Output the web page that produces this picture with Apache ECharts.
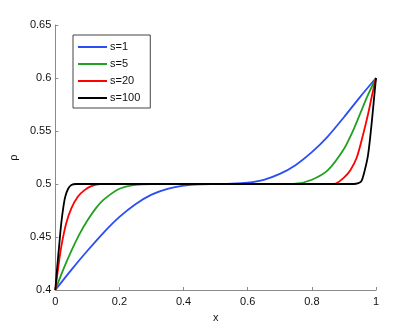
<!DOCTYPE html>
<html>
<head>
<meta charset="utf-8">
<script src="https://cdn.jsdelivr.net/npm/echarts@6/dist/echarts.min.js"></script>
<style>
html,body{margin:0;padding:0;background:#fff;}
#chart{width:415px;height:328px;}
</style>
</head>
<body>
<div id="chart"></div>
<script>
// Data
const seriesNames = ['s=1', 's=5', 's=20', 's=100'];
const seriesColors = ['#2a4df5', '#22a022', '#ff0000', '#000000'];

const x1 = [0, 0.05, 0.1, 0.15, 0.2, 0.25, 0.3, 0.35, 0.4, 0.45, 0.5, 0.55, 0.6, 0.65, 0.7, 0.75, 0.8, 0.85, 0.9, 0.95, 1];
const y1 = [0.4, 0.419, 0.437, 0.454, 0.469, 0.481, 0.490, 0.4955, 0.4985, 0.4997, 0.5, 0.5003, 0.5013, 0.504, 0.5095, 0.518, 0.530, 0.545, 0.563, 0.582, 0.6];

const x5 = [0, 0.025, 0.05, 0.075, 0.1, 0.125, 0.15, 0.2, 0.25, 0.3, 0.7, 0.75, 0.8, 0.85, 0.9, 0.925, 0.95, 0.975, 1];
const y5 = [0.4, 0.4195, 0.437, 0.4525, 0.4655, 0.4765, 0.485, 0.4955, 0.4992, 0.5, 0.5, 0.5003, 0.504, 0.513, 0.533, 0.548, 0.566, 0.584, 0.6];

const x20 = [0, 0.01, 0.0186, 0.034, 0.05, 0.07, 0.09, 0.112, 0.14, 0.86, 0.875, 0.9, 0.92, 0.94, 0.96, 0.976, 0.99, 1];
const y20 = [0.4, 0.423, 0.441, 0.463, 0.477, 0.488, 0.494, 0.498, 0.5, 0.5, 0.5005, 0.506, 0.513, 0.525, 0.547, 0.567, 0.587, 0.6];

const x100 = [0, 0.006, 0.0124, 0.0186, 0.025, 0.031, 0.04, 0.05, 0.065, 0.93, 0.945, 0.955, 0.965, 0.975, 0.985, 0.993, 1];
const y100 = [0.4, 0.422, 0.443, 0.463, 0.478, 0.488, 0.4955, 0.499, 0.5, 0.5, 0.5008, 0.503, 0.513, 0.527, 0.553, 0.578, 0.6];

const xTickLabels = ['0', '0.2', '0.4', '0.6', '0.8', '1'];
const yTickLabels = ['0.4', '0.45', '0.5', '0.55', '0.6', '0.65'];

const xsList = [x1, x5, x20, x100];
const ysList = [y1, y5, y20, y100];

function pairs(xs, ys) { return xs.map((x, i) => [x, ys[i]]); }

const chart = echarts.init(document.getElementById('chart'), null, {renderer: 'canvas'});
const axisColor = '#8a8a8a';
const font = 'Liberation Sans, Arial, Helvetica, sans-serif';

chart.setOption({
  backgroundColor: '#ffffff',
  animation: false,
  grid: {left: 54, right: 39, top: 25, bottom: 38},
  legend: {
    orient: 'vertical',
    left: 73, top: 35,
    padding: [5, 10, 3, 5],
    borderColor: '#444',
    borderWidth: 1,
    backgroundColor: '#fff',
    icon: 'rect',
    itemWidth: 29,
    itemHeight: 2,
    itemGap: 3,
    textStyle: {fontFamily: font, fontSize: 11, color: '#111', lineHeight: 14, padding: [0, 0, 0, -2]},
    data: seriesNames
  },
  xAxis: {
    type: 'value', min: 0, max: 1, interval: 0.2,
    name: 'x', nameLocation: 'middle', nameGap: 22,
    nameTextStyle: {fontFamily: font, fontSize: 11, color: '#111'},
    axisLine: {show: true, lineStyle: {color: axisColor, width: 1}},
    axisTick: {show: true, inside: true, length: 3, lineStyle: {color: axisColor}},
    axisLabel: {fontFamily: font, fontSize: 11, color: '#111', margin: 6,
      formatter: (v) => xTickLabels[Math.round(v / 0.2)]},
    splitLine: {show: false}
  },
  yAxis: {
    type: 'value', min: 0.4, max: 0.65, interval: 0.05,
    name: 'ρ', nameLocation: 'middle', nameGap: 31, nameRotate: 90,
    nameTextStyle: {fontFamily: font, fontSize: 11, color: '#111'},
    axisLine: {show: true, lineStyle: {color: axisColor, width: 1}},
    axisTick: {show: true, inside: true, length: 3, lineStyle: {color: axisColor}},
    axisLabel: {fontFamily: font, fontSize: 11, color: '#111', margin: 4,
      formatter: (v) => yTickLabels[Math.round((v - 0.4) / 0.05)]},
    splitLine: {show: false}
  },
  series: seriesNames.map((n, i) => ({
    name: n,
    type: 'line',
    data: pairs(xsList[i], ysList[i]),
    showSymbol: false,
    smooth: 0.3,
    lineStyle: {color: seriesColors[i], width: 1.8},
    itemStyle: {color: seriesColors[i]},
    z: 2 + i
  }))
});
</script>
</body>
</html>
